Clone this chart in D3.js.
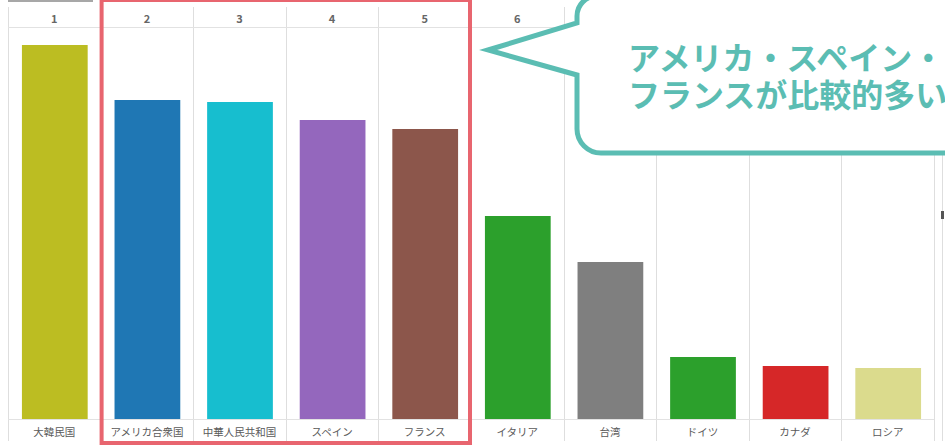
<!DOCTYPE html>
<html><head><meta charset="utf-8">
<script src="https://cdn.jsdelivr.net/npm/d3@7"></script>
<style>html,body{margin:0;padding:0;background:#fff;overflow:hidden}</style>
</head><body>
<svg id="c" width="945" height="446"></svg>
<script>
const categories = ["大韓民国","アメリカ合衆国","中華人民共和国","スペイン","フランス","イタリア","台湾","ドイツ","カナダ","ロシア"];
const ranks = ["1","2","3","4","5","6","7","8","9","10"];
const values = [374, 319, 317, 299, 290, 203, 157, 62, 53, 51];
const colors = ["#bcbd22","#1f77b4","#17becf","#9467bd","#8c564b","#2ca02c","#7f7f7f","#2ca02c","#d62728","#dbdb8d"];
const highlighted = ["アメリカ合衆国","中華人民共和国","スペイン","フランス"];
const calloutLines = ["アメリカ・スペイン・","フランスが比較的多い"];

const svg = d3.select("#c");
const left = 8, right = 934, headTop = 7, headLine = 27, base = 419, bottom = 441;
const x = d3.scaleBand().domain(categories).range([left, right]).paddingInner(0).paddingOuter(0);
const y = d3.scaleLinear().domain([0, d3.max(values)]).range([base, 45]);
const font = "'Noto Sans CJK JP','Noto Sans',sans-serif";

// faint cut-off element at top-left
svg.append("line").attr("x1", 8).attr("x2", 93).attr("y1", 1).attr("y2", 1).attr("stroke", "#8a8a8a").attr("stroke-width", 1.5);

// grid
const bounds = categories.map(c => x(c)).concat([right]);
svg.selectAll(".vg").data(bounds).join("line")
  .attr("x1", d => Math.round(d) + 0.5).attr("x2", d => Math.round(d) + 0.5)
  .attr("y1", headTop).attr("y2", bottom).attr("stroke", "#dedede");
svg.append("line").attr("x1", 942.5).attr("x2", 942.5).attr("y1", 150).attr("y2", bottom).attr("stroke", "#dedede");
svg.append("rect").attr("x", 941).attr("y", 211).attr("width", 3).attr("height", 8).attr("fill", "#555");
[headLine, base].forEach(v => svg.append("line").attr("x1", left).attr("x2", right).attr("y1", v + 0.5).attr("y2", v + 0.5).attr("stroke", "#e2e2e2"));

// header ranks
svg.selectAll(".rk").data(categories).join("text")
  .attr("x", d => x(d) + x.bandwidth() / 2).attr("y", 23)
  .attr("text-anchor", "middle").attr("font-family", font).attr("font-weight", "bold")
  .attr("font-size", 11).attr("fill", "#666").text((d, i) => ranks[i]);

// bars
const bw = x.bandwidth() * 0.71;
svg.selectAll(".bar").data(categories).join("rect")
  .attr("x", d => x(d) + (x.bandwidth() - bw) / 2 + 0.5)
  .attr("width", bw)
  .attr("y", (d, i) => y(values[i]))
  .attr("height", (d, i) => base - y(values[i]))
  .attr("fill", (d, i) => colors[i]);

// labels
svg.selectAll(".lb").data(categories).join("text")
  .attr("x", d => x(d) + x.bandwidth() / 2).attr("y", 436)
  .attr("text-anchor", "middle").attr("font-family", font)
  .attr("font-size", 10.5).attr("fill", "#5a5a5a").text(d => d);

// highlight box
const hx0 = x(highlighted[0]), hx1 = x(highlighted[highlighted.length - 1]) + x.bandwidth();
svg.append("rect").attr("x", hx0 + 1).attr("y", 0).attr("width", hx1 - hx0 - 2).attr("height", 443)
  .attr("fill", "none").attr("stroke", "#e8656f").attr("stroke-width", 4);

// callout
const L = 577, T = -4, B = 153, R = 990, r1 = 20, r2 = 24;
const p = d3.path();
p.moveTo(488, 50);
p.lineTo(L, 23);
p.lineTo(L, T + r1);
p.arcTo(L, T, L + r1, T, r1);
p.lineTo(R, T);
p.lineTo(R, B);
p.lineTo(L + r2, B);
p.arcTo(L, B, L, B - r2, r2);
p.lineTo(L, 75);
p.closePath();
svg.append("path").attr("d", p.toString()).attr("fill", "#fff")
  .attr("stroke", "#5bbdb3").attr("stroke-width", 5).attr("stroke-linejoin", "miter");

const co = svg.append("text")
  .attr("font-family", font).attr("font-weight", "bold").attr("font-size", 32)
  .attr("fill", "#5bbdb3");
co.selectAll("tspan").data(calloutLines).join("tspan")
  .attr("x", 628).attr("y", (d, i) => 70 + i * 37).text(d => d);
</script>
</body></html>
